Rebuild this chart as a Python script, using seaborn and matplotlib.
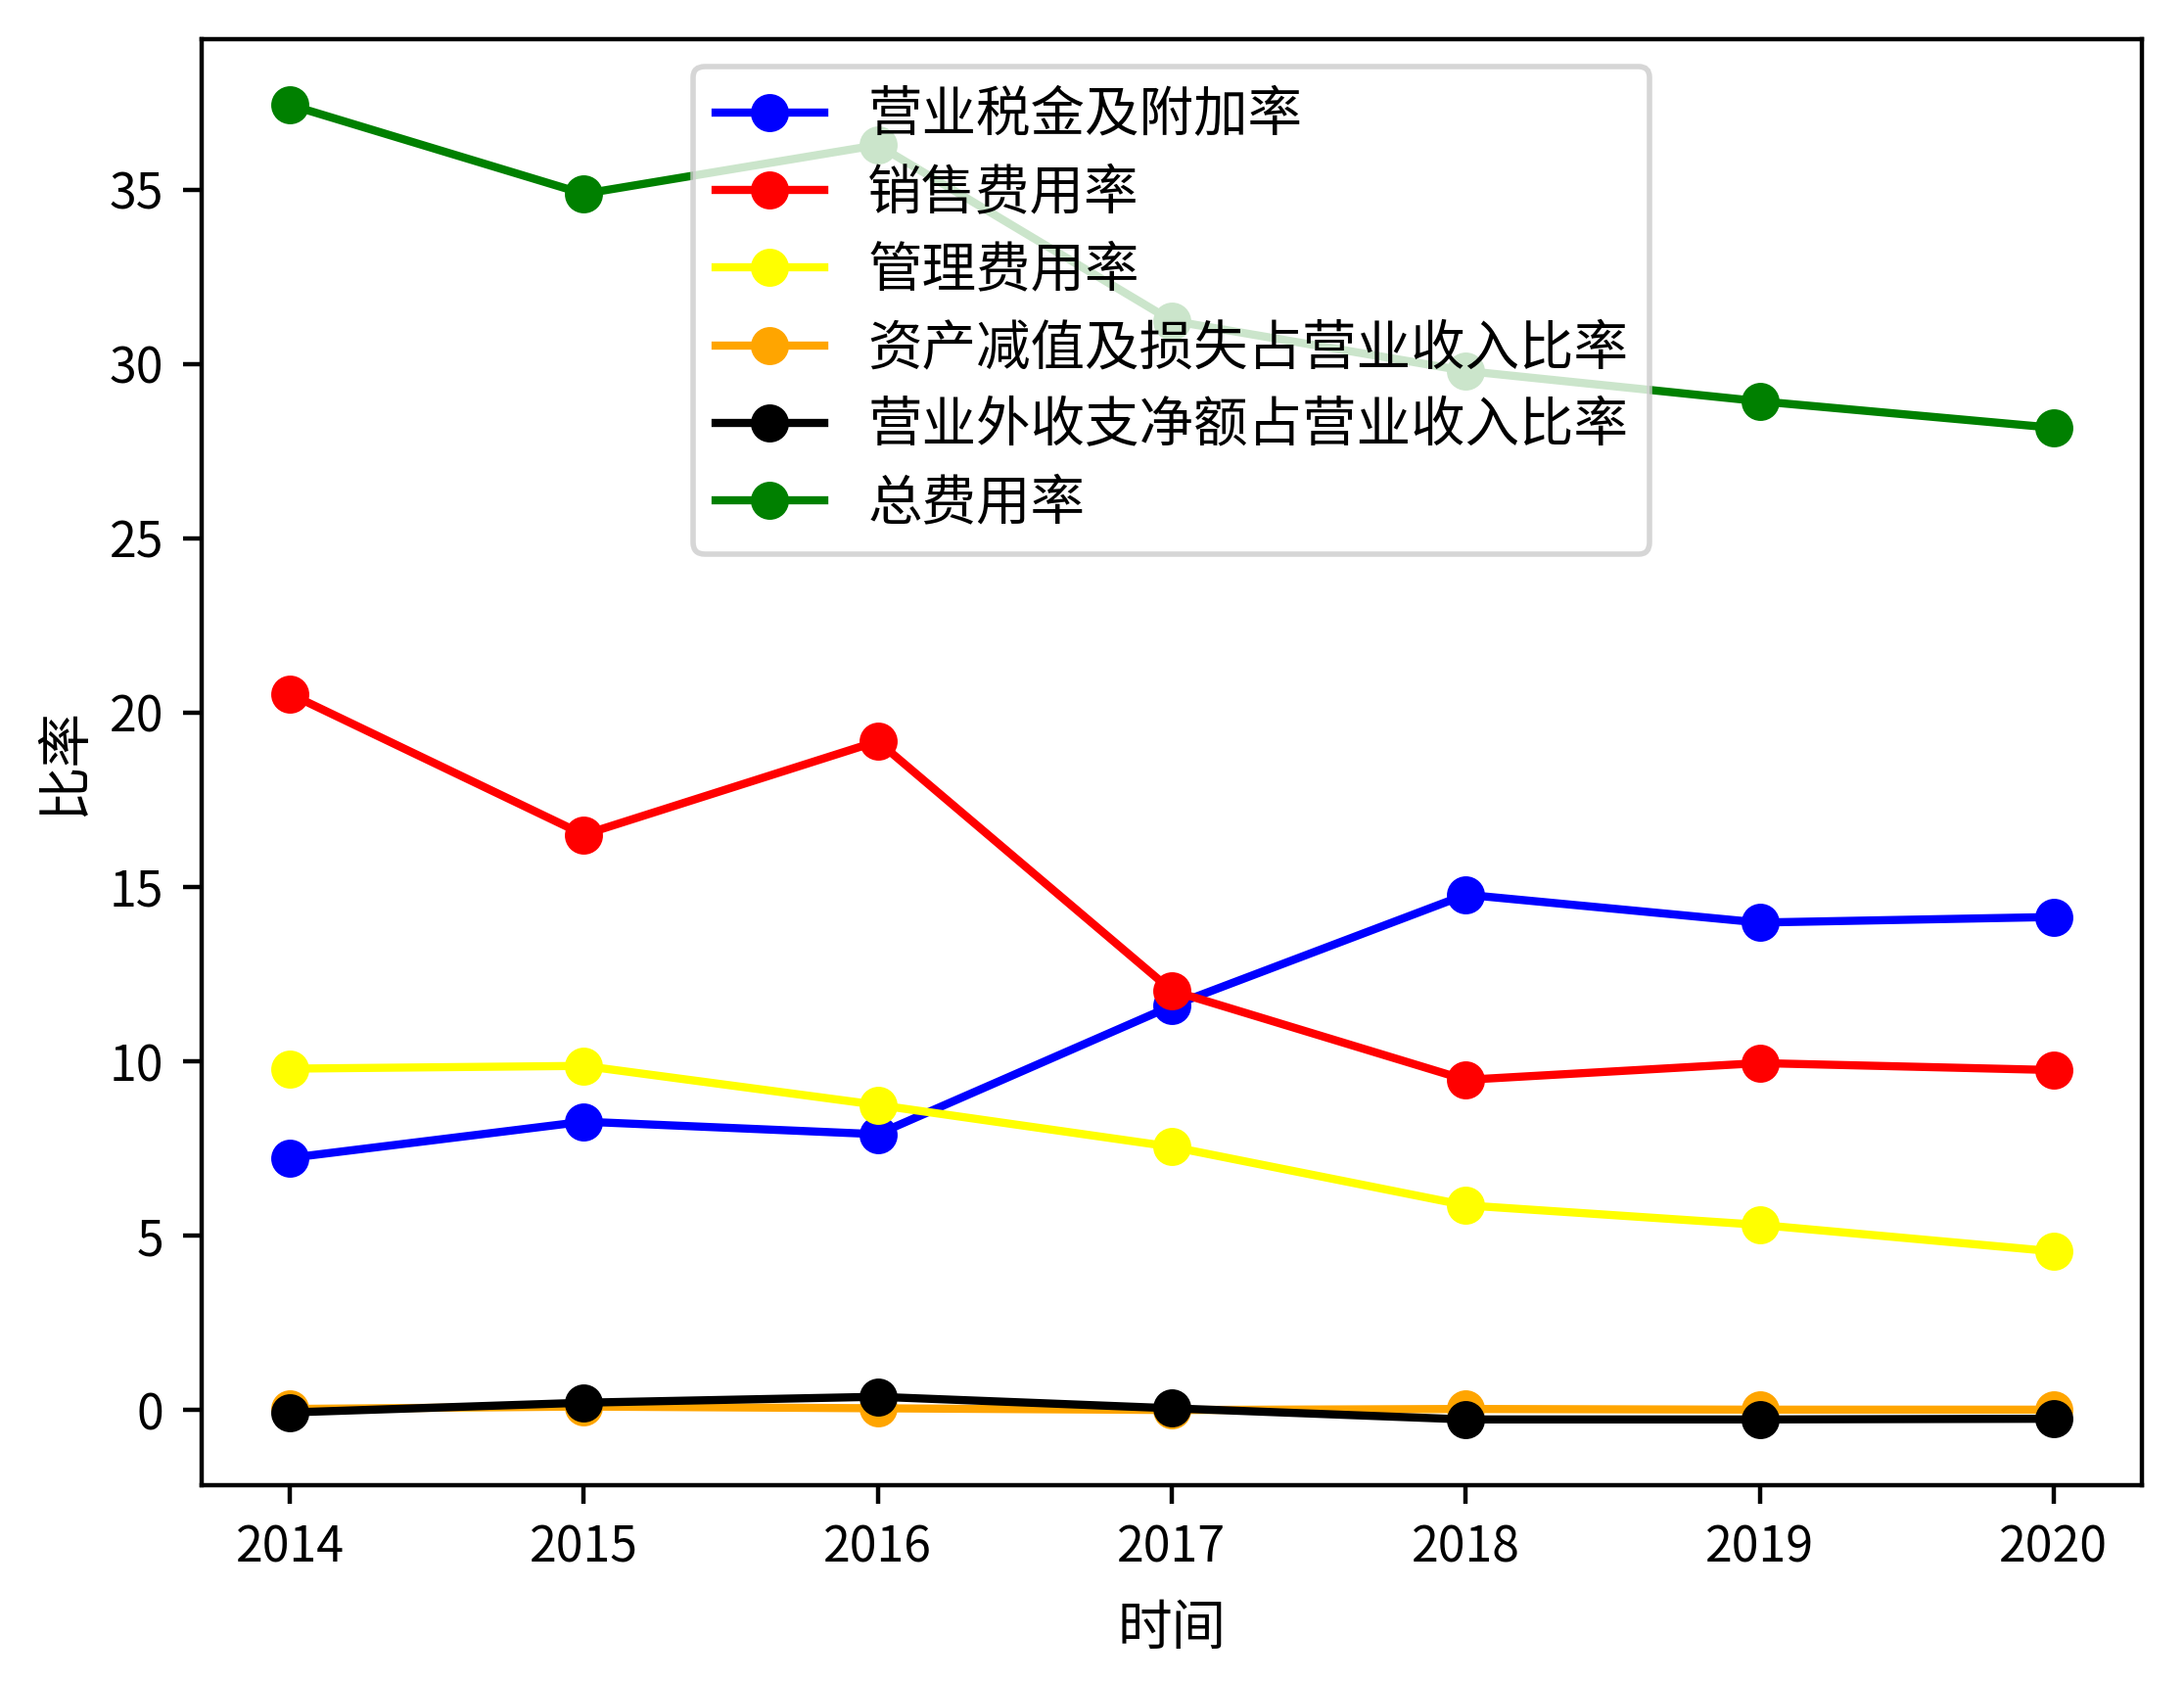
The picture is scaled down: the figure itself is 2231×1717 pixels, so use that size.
import matplotlib
matplotlib.use("Agg")
import matplotlib.pyplot as plt
import seaborn as sns

plt.rcParams['font.family'] = ['Noto Sans CJK SC', 'DejaVu Sans']
plt.rcParams['axes.unicode_minus'] = False

years = [2014, 2015, 2016, 2017, 2018, 2019, 2020]
yingye_shuijin = [7.23, 8.27, 7.91, 11.59, 14.78, 13.98, 14.14]
xiaoshou = [20.54, 16.50, 19.18, 12.03, 9.47, 9.95, 9.75]
guanli = [9.79, 9.87, 8.75, 7.55, 5.87, 5.31, 4.55]
zichan_jianzhi = [0.03, 0.10, 0.05, 0.00, 0.03, 0.01, 0.01]
yingyewai = [-0.07, 0.21, 0.38, 0.05, -0.27, -0.27, -0.25]
zong_feiyong = [37.43, 34.88, 36.28, 31.24, 29.80, 28.93, 28.17]

series = [
    ("营业税金及附加率", yingye_shuijin, "blue"),
    ("销售费用率", xiaoshou, "red"),
    ("管理费用率", guanli, "yellow"),
    ("资产减值及损失占营业收入比率", zichan_jianzhi, "orange"),
    ("营业外收支净额占营业收入比率", yingyewai, "black"),
    ("总费用率", zong_feiyong, "green"),
]

fig = plt.figure(figsize=(2231 / 400, 1717 / 400), dpi=400)
ax = fig.add_axes([0.0923, 0.1165, 0.9807 - 0.0923, 0.9767 - 0.1165])

for name, vals, c in series:
    sns.lineplot(x=years, y=vals, ax=ax, color=c, marker="o", label=name,
                 markersize=6, markeredgecolor=c, markeredgewidth=1, linewidth=1.5)

ax.set_xticks(years)
ax.set_xticklabels([str(y) for y in years])
ax.tick_params(labelsize=9)
ax.set_xlabel("时间", labelpad=5)
ax.set_ylabel("比率", labelpad=3)
ax.legend(loc="upper center", labelspacing=0.39)

fig.savefig("out.png", dpi=400)
